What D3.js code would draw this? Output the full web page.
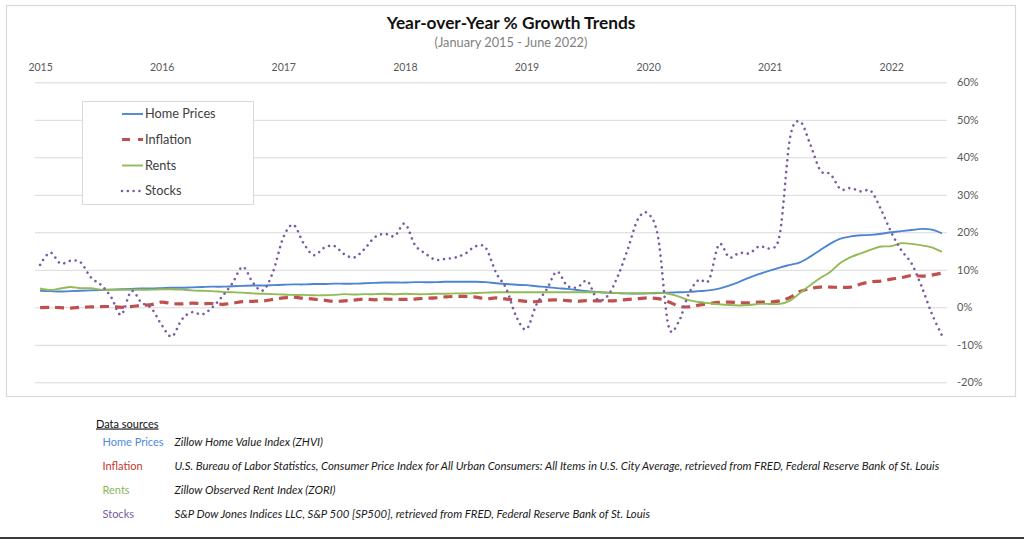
<!DOCTYPE html>
<html><head><meta charset="utf-8">
<script src="https://cdn.jsdelivr.net/npm/d3@7"></script>
<style>html,body{margin:0;padding:0;background:#fff;}svg{display:block;font-family:Lato,"Open Sans",sans-serif;}</style>
</head><body><svg id="c" width="1024" height="544"></svg>
<script>
// ---- data ----
const startMonth = new Date(2015, 0, 1), endMonth = new Date(2022, 6, 1);
const months = d3.timeMonths(startMonth, endMonth); // Jan 2015 .. Jun 2022 (categories)
const yearTicks = ["2015","2016","2017","2018","2019","2020","2021","2022"];
const yTicks = [-20,-10,0,10,20,30,40,50,60];
const seriesNames = ["Home Prices","Inflation","Rents","Stocks"];
const homePrices = [4.4,4.3,4.2,4.3,4.4,4.5,4.6,4.7,4.8,4.9,5.0,5.0,
  5.1,5.2,5.2,5.3,5.4,5.5,5.5,5.6,5.7,5.8,5.8,5.9,
  6.0,6.1,6.1,6.2,6.2,6.3,6.3,6.3,6.4,6.5,6.6,6.6,
  6.6,6.7,6.7,6.7,6.8,6.8,6.8,6.8,6.7,6.4,6.2,6.0,
  5.9,5.6,5.4,5.1,4.9,4.6,4.3,4.1,3.9,3.8,3.7,3.7,
  3.7,3.8,3.9,4.0,4.1,4.3,4.5,5.0,5.8,6.8,7.9,8.9,
  9.8,10.6,11.3,12.0,13.5,15.3,17.0,18.3,18.9,19.2,19.3,19.6,
  20.0,20.3,20.6,20.9,20.7,19.7];
const inflation = [-0.1,0.0,-0.1,-0.2,0.0,0.1,0.2,0.2,0.0,0.2,0.5,0.7,
  1.4,1.0,0.9,1.1,1.0,1.0,0.8,1.1,1.5,1.6,1.7,2.1,
  2.5,2.7,2.4,2.2,1.9,1.6,1.7,1.9,2.2,2.0,2.2,2.1,
  2.1,2.2,2.4,2.5,2.8,2.9,2.9,2.7,2.3,2.5,2.2,1.9,
  1.6,1.5,1.9,2.0,1.8,1.6,1.8,1.7,1.7,1.8,2.1,2.3,
  2.5,2.3,1.5,0.3,0.1,0.6,1.0,1.3,1.4,1.2,1.2,1.4,
  1.4,1.7,2.6,4.2,5.0,5.4,5.4,5.3,5.4,6.2,6.8,7.0,
  7.5,7.9,8.5,8.3,8.6,9.1];
const rents = [5.0,4.6,5.0,5.4,5.1,5.1,4.7,4.7,4.7,4.7,4.7,4.7,
  4.8,4.8,4.7,4.5,4.4,4.3,4.1,4.0,3.9,3.7,3.6,3.5,
  3.4,3.3,3.3,3.2,3.2,3.3,3.5,3.4,3.5,3.5,3.6,3.5,
  3.6,3.5,3.5,3.6,3.6,3.7,3.7,3.8,3.9,4.0,4.0,4.0,
  4.0,4.0,4.0,4.0,4.0,4.0,4.0,4.0,3.9,3.8,3.7,3.7,
  3.8,3.9,3.6,2.9,1.9,1.4,1.1,0.8,0.6,0.5,0.6,0.9,
  0.9,0.9,1.8,3.8,5.9,7.8,9.5,11.9,13.4,14.4,15.4,16.2,
  16.3,17.1,16.9,16.5,16.0,14.8];
const stocks = [11.3,14.6,11.7,12.4,12.0,8.0,6.0,2.8,-2.0,4.3,1.3,-0.3,
  -4.7,-7.8,-3.2,-1.3,-1.9,0.0,3.0,6.5,10.8,6.6,4.5,9.5,
  18.6,22.0,17.1,13.9,15.8,16.4,14.2,13.3,15.5,18.6,19.6,19.0,
  22.3,16.6,14.4,12.7,12.9,13.3,14.4,16.3,15.8,9.2,5.0,-2.5,
  -5.8,0.8,4.8,9.5,5.8,5.3,7.0,2.1,3.0,8.2,15.5,23.5,
  25.0,18.5,-4.8,-4.0,3.5,7.3,7.2,16.8,13.3,14.5,14.4,16.3,
  15.8,19.5,45.0,49.5,43.5,36.5,35.5,31.5,31.8,30.9,31.0,26.0,
  20.0,15.2,11.7,5.5,-1.7,-7.5];
const sourceText = [
  "Zillow Home Value Index (ZHVI)",
  "U.S. Bureau of Labor Statistics, Consumer Price Index for All Urban Consumers: All Items in U.S. City Average, retrieved from FRED, Federal Reserve Bank of St. Louis",
  "Zillow Observed Rent Index (ZORI)",
  "S&P Dow Jones Indices LLC, S&P 500 [SP500], retrieved from FRED, Federal Reserve Bank of St. Louis"];

// ---- styles ----
const colors = {"Home Prices":"#4E85D3","Inflation":"#C0504D","Rents":"#93BA55","Stocks":"#7A5CA3"};
const labelColors = {"Home Prices":"#4E8AD8","Inflation":"#C0392B","Rents":"#8DB65A","Stocks":"#7A5CA3"};
const styles = {
  "Home Prices":{w:1.9,dash:null,cap:"butt"},
  "Inflation":{w:3.2,dash:"9,6",cap:"butt"},
  "Rents":{w:1.9,dash:null,cap:"butt"},
  "Stocks":{w:2.6,dash:"0.01,5.9",cap:"round"}
};
const valuesBy = {"Home Prices":homePrices,"Inflation":inflation,"Rents":rents,"Stocks":stocks};

const svg = d3.select("#c");
function fit(sel, target){ const w = sel.node().getComputedTextLength(); const fs = parseFloat(sel.attr("font-size")); const nf = fs*target/w; sel.attr("font-size", nf); return nf; }

// frame
svg.append("rect").attr("x",6.5).attr("y",5.5).attr("width",1009).attr("height",391)
  .attr("fill","#fff").attr("stroke","#d9d9d9").attr("stroke-width",1.2);
svg.append("line").attr("x1",0).attr("x2",1024).attr("y1",538).attr("y2",538)
  .attr("stroke","#3a3a3a").attr("stroke-width",2);

// titles
const t1 = svg.append("text").attr("x",511).attr("y",29).attr("text-anchor","middle")
  .attr("font-weight","bold").attr("font-size",18).attr("fill","#111").text("Year-over-Year % Growth Trends");
fit(t1, 249);
const t2 = svg.append("text").attr("x",511).attr("y",47).attr("text-anchor","middle")
  .attr("font-size",13).attr("fill","#7f7f7f").text("(January 2015 - June 2022)");
fit(t2, 153);

// scales
const x = d3.scalePoint().domain(d3.range(months.length)).range([35, 947]).padding(0.5);
const y = d3.scaleLinear().domain([-20, 60]).range([382.3, 82.3]);

// gridlines + right labels
const yAxis = d3.axisRight(y).tickValues(yTicks).tickSize(912).tickPadding(10).tickFormat(d => d + "%");
const gy = svg.append("g").attr("transform","translate(35,0)").call(yAxis);
gy.select(".domain").remove();
gy.selectAll(".tick line").attr("stroke","#d9d9d9").attr("stroke-width",1);
gy.selectAll(".tick text").attr("fill","#595959").attr("font-size",11).attr("font-family","Lato,sans-serif");

// top year axis
const janIdx = yearTicks.map(yr => months.findIndex(m => m.getFullYear() === +yr && m.getMonth() === 0));
const xAxis = d3.axisTop(x).tickValues(janIdx).tickSize(0).tickPadding(4).tickFormat((d,i) => yearTicks[i]);
const gx = svg.append("g").attr("transform","translate(0,75)").call(xAxis);
gx.select(".domain").remove();
gx.selectAll(".tick text").attr("fill","#595959").attr("font-size",10.5).attr("font-family","Lato,sans-serif");

// lines
const line = d3.line().x((d,i) => x(i)).y(d => y(d)).curve(d3.curveCardinal.tension(0));
seriesNames.forEach(name => {
  const st = styles[name];
  svg.append("path").datum(valuesBy[name]).attr("d", line)
    .attr("fill","none").attr("stroke",colors[name]).attr("stroke-width",st.w)
    .attr("stroke-dasharray",st.dash).attr("stroke-linecap",st.cap).attr("stroke-linejoin","round");
});

// legend
const lg = svg.append("g");
lg.append("rect").attr("x",82.5).attr("y",101.5).attr("width",171).attr("height",103)
  .attr("fill","#fff").attr("stroke","#d9d9d9").attr("stroke-width",1);
const legY = [114, 139.5, 165.5, 191];
let legFs = null;
seriesNames.forEach((name,i) => {
  const st = styles[name];
  lg.append("line").attr("x1",122).attr("x2",143).attr("y1",legY[i]).attr("y2",legY[i])
    .attr("stroke",colors[name]).attr("stroke-width",st.w)
    .attr("stroke-dasharray", name==="Inflation" ? "8,8" : (name==="Stocks" ? "0.01,5.8" : null))
    .attr("stroke-linecap",st.cap);
  const tx = lg.append("text").attr("x",145).attr("y",legY[i]).attr("dy","0.35em")
    .attr("font-size",13).attr("fill","#404040").text(name);
  if (i===0) legFs = fit(tx, 70.7); else tx.attr("font-size", legFs);
});

// data sources
const ds = svg.append("g");
ds.append("text").attr("x",96).attr("y",427.5).attr("font-size",11).attr("fill","#111")
  .attr("text-decoration","underline").text("Data sources");
const rowY = [446, 470, 493.5, 517.5];
let dFs = null;
const tmp = ds.append("text").attr("x",174).attr("y",-50).attr("font-size",11).attr("font-style","italic").text(sourceText[1]);
dFs = fit(tmp, 766); tmp.remove();
seriesNames.forEach((name,i) => {
  ds.append("text").attr("x",102.5).attr("y",rowY[i]).attr("font-size",11).attr("fill",labelColors[name]).text(name);
  ds.append("text").attr("x",174.5).attr("y",rowY[i]).attr("font-size",dFs).attr("font-style","italic")
    .attr("fill","#1a1a1a").text(sourceText[i]);
});
</script></body></html>
